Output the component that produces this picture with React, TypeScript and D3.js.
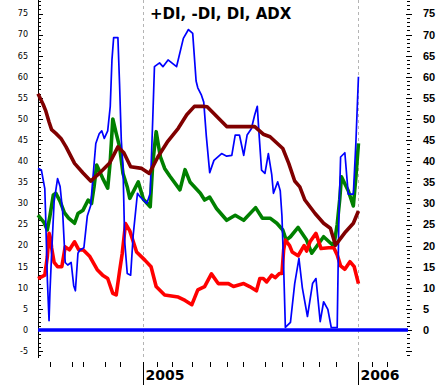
import React, { useEffect, useRef } from "react";
import * as d3 from "d3";

const WIDTH = 445;
const HEIGHT = 385;

// [trading day index, value]
const plusDI: [number, number][] = [
  [0, 27.2], [7, 25.5], [11, 23.7], [14, 27], [18, 32], [21, 32.4], [26, 30.5],
  [31, 27.8], [36, 26.5], [43, 25.3], [47, 27.6], [53, 28.4], [59, 30.8], [63, 30],
  [66, 34], [69, 39.1], [76, 36], [82, 33.6], [85, 40], [88, 50], [92, 46.6],
  [96, 43.4], [100, 37.1], [105, 33.9], [108, 31.2], [118, 35.1], [124, 31],
  [132, 29.2], [135, 39.5], [139, 47], [144, 41], [149, 38.3], [155, 36.5],
  [167, 33.2], [173, 38], [179, 35], [191, 32.4], [196, 30.8], [202, 31.5],
  [210, 28.8], [222, 26], [232, 27.2], [242, 26], [256, 29], [264, 26.5],
  [273, 26.5], [281, 25.3], [288, 23.7], [292, 21.3], [297, 22.1], [306, 24.3],
  [316, 21.3], [322, 18.2], [336, 22.1], [348, 19.9], [352, 25], [355, 31],
  [357, 36.3], [365, 33], [371, 29.4], [374, 36.3], [377, 44.2],
];

const minusDI: [number, number][] = [
  [0, 12.2], [8, 13], [11, 17.4], [13, 22.9], [15, 21.5], [16, 19.5], [19, 16],
  [23, 15], [28, 15], [32, 19.7], [37, 19], [43, 20.9], [48, 19], [53, 19],
  [61, 17.4], [70, 14.2], [76, 13], [82, 12.2], [88, 8.7], [92, 8.3], [96, 14],
  [99, 18], [103, 25.2], [108, 23.5], [116, 18.5], [126, 16.5], [133, 15],
  [139, 10.3], [149, 8.3], [165, 7.8], [173, 7], [181, 6], [188, 9.5],
  [196, 10.3], [204, 13.3], [212, 11], [224, 11], [230, 10.3], [242, 11],
  [249, 10.3], [257, 9.3], [261, 12.2], [265, 12.2], [269, 11.4], [275, 13],
  [279, 12.4], [284, 13.4], [287, 13.4], [289, 19], [291, 21.3], [296, 20],
  [299, 18.5], [306, 17.6], [313, 20], [316, 18.7], [320, 20.9], [327, 22.9],
  [333, 19.3], [342, 19.5], [348, 19.5], [352, 17.8], [356, 15.2], [361, 14.4],
  [367, 16.2], [372, 15], [377, 11],
];

const di: [number, number][] = [
  [0, 38.3], [4, 37.9], [8, 33.5], [9, 27], [11, 12], [13, 2.2], [14, 8.7],
  [16, 18], [19, 30.5], [23, 35.9], [26, 34], [29, 28], [32, 16], [35, 15.4],
  [39, 16], [42, 10.5], [44, 9.3], [47, 18.2], [49, 18.9], [54, 19.5], [58, 27],
  [62, 29.5], [65, 37], [68, 44.2], [72, 46.5], [75, 47.2], [78, 45.4],
  [82, 47.2], [85, 53], [87, 64], [89, 69.3], [94, 69.3], [96, 58], [98, 45],
  [100, 38.7], [102, 21], [105, 13.4], [109, 13], [112, 22.5], [117, 32.4],
  [120, 31.6], [124, 30.8], [128, 30], [132, 32.4], [135, 50], [137, 62.4],
  [143, 63.3], [147, 62.4], [153, 64], [163, 62.4], [171, 69.1], [177, 71.2],
  [182, 70.3], [186, 59], [188, 57.4], [192, 55.8], [195, 54], [198, 46],
  [202, 37.3], [207, 40.2], [216, 41.8], [222, 41.2], [228, 41.4], [232, 46.2],
  [237, 46.2], [242, 41.4], [246, 46.2], [251, 47.7], [255, 51], [258, 53],
  [260, 46.6], [263, 37.9], [267, 37.1], [271, 41.8], [275, 36.8], [277, 32.4],
  [282, 35.1], [285, 33], [287, 27], [289, 15], [291, 0.6], [297, 1.8],
  [302, 11], [307, 17], [311, 10], [317, 3.2], [323, 11], [327, 12.2], [332, 2],
  [336, 6.7], [341, 4.9], [345, 0.6], [352, 0.6], [354, 26.8], [356, 41],
  [361, 42], [365, 32.2], [371, 32.2], [374, 44.5], [377, 60],
];

const adx: [number, number][] = [
  [0, 56], [6, 53.5], [9, 52], [13, 49.3], [16, 47.5], [21, 46.6], [27, 45.4],
  [33, 43.4], [43, 39.5], [53, 37.2], [62, 35.3], [72, 37.1], [84, 39.5],
  [94, 43.4], [101, 42], [109, 38.7], [122, 38.3], [131, 37.1], [141, 41],
  [152, 44.5], [165, 47.8], [175, 51], [184, 53], [194, 53], [199, 52.9],
  [222, 48.2], [255, 48.2], [265, 46.4], [273, 45.8], [288, 43], [295, 39.5],
  [302, 35.3], [308, 33.9], [314, 30.8], [326, 27.6], [336, 25.3], [344, 24.1],
  [350, 20.1], [362, 23.3], [371, 25.3], [377, 28.2],
];

const monthTicks = [14, 40, 53, 79, 97, 140, 158, 181, 202, 222, 241, 267, 287, 312, 331, 351, 393, 410];
const yearTicks = [123, 376];
const yearLabels = ["2005", "2006"];
const yTickValues = [-5, 0, 5, 10, 15, 20, 25, 30, 35, 40, 45, 50, 55, 60, 65, 70, 75];

const series = [
  { data: plusDI, color: "#008000", width: 3.6 },
  { data: minusDI, color: "#ff0000", width: 3.6 },
  { data: di, color: "#0000ff", width: 1.7 },
  { data: adx, color: "#800000", width: 3.6 },
];

const App = () => {
  const svgRef = useRef<SVGSVGElement>(null);

  useEffect(() => {
    const svg = d3.select(svgRef.current);
    svg.selectAll("*").remove();

    const x = d3.scaleLinear().domain([0, 435]).range([38, 407.75]);
    const y = d3.scaleLinear().domain([-6.633, 78.2]).range([358, 0]);

    // year grid lines
    svg
      .selectAll(".grid")
      .data(yearTicks)
      .join("line")
      .attr("x1", (d) => Math.round(x(d)) + 0.5)
      .attr("x2", (d) => Math.round(x(d)) + 0.5)
      .attr("y1", 0)
      .attr("y2", 358)
      .attr("stroke", "#b4b4b4")
      .attr("stroke-dasharray", "3,3");

    // left axis
    const left = svg.append("g").attr("shape-rendering", "crispEdges");
    left
      .append("line")
      .attr("x1", 38.5)
      .attr("x2", 38.5)
      .attr("y1", 0)
      .attr("y2", 358)
      .attr("stroke", "#000");
    left
      .selectAll(".minor")
      .data(d3.range(-6, 79))
      .join("line")
      .attr("x1", 38.5)
      .attr("x2", (d) => (d % 5 === 0 ? 43 : 41))
      .attr("y1", (d) => Math.round(y(d)) + 0.5)
      .attr("y2", (d) => Math.round(y(d)) + 0.5)
      .attr("stroke", "#000");
    left
      .selectAll("text")
      .data(yTickValues)
      .join("text")
      .attr("x", 28)
      .attr("y", (d) => y(d))
      .attr("dy", "0.35em")
      .attr("text-anchor", "end")
      .attr("font-family", "DejaVu Sans, sans-serif")
      .attr("font-size", 8)
      .attr("fill", "#000")
      .text((d) => d);

    // right axis
    const right = svg.append("g").attr("shape-rendering", "crispEdges");
    right
      .selectAll("line")
      .data(d3.range(-6, 79))
      .join("line")
      .attr("x1", (d) => (d % 5 === 0 ? 406 : 407))
      .attr("x2", (d) => (d % 5 === 0 ? 412 : 410))
      .attr("y1", (d) => Math.round(y(d)) + 0.5)
      .attr("y2", (d) => Math.round(y(d)) + 0.5)
      .attr("stroke", "#000");
    right
      .selectAll("text")
      .data(yTickValues.filter((d) => d >= 0))
      .join("text")
      .attr("x", 423)
      .attr("y", (d) => y(d))
      .attr("dy", "0.36em")
      .attr("font-family", "Liberation Sans, Arial, sans-serif")
      .attr("font-weight", "bold")
      .attr("font-size", 11)
      .attr("fill", "#000")
      .text((d) => d);

    // bottom ticks
    const bottom = svg.append("g").attr("shape-rendering", "crispEdges");
    bottom
      .selectAll(".month")
      .data(monthTicks)
      .join("line")
      .attr("x1", (d) => Math.round(x(d)) + 0.5)
      .attr("x2", (d) => Math.round(x(d)) + 0.5)
      .attr("y1", 362)
      .attr("y2", 367)
      .attr("stroke", "#000");
    bottom
      .selectAll(".year")
      .data(yearTicks)
      .join("line")
      .attr("x1", (d) => Math.round(x(d)) + 0.5)
      .attr("x2", (d) => Math.round(x(d)) + 0.5)
      .attr("y1", 362)
      .attr("y2", 385)
      .attr("stroke", "#000");
    bottom
      .selectAll("text")
      .data(yearTicks)
      .join("text")
      .attr("x", (d) => Math.round(x(d)) + 2.5)
      .attr("y", 380)
      .attr("font-family", "DejaVu Sans, sans-serif")
      .attr("font-weight", "bold")
      .attr("font-size", 14)
      .attr("fill", "#000")
      .text((d, i) => yearLabels[i]);

    // zero line
    svg
      .append("line")
      .attr("x1", 38)
      .attr("x2", 408)
      .attr("y1", y(0))
      .attr("y2", y(0))
      .attr("stroke", "#0000ff")
      .attr("stroke-width", 3.5);

    const line = d3
      .line<[number, number]>()
      .x((d) => x(d[0]))
      .y((d) => y(d[1]));

    svg
      .selectAll(".series")
      .data(series)
      .join("path")
      .attr("d", (s) => line(s.data))
      .attr("fill", "none")
      .attr("stroke", (s) => s.color)
      .attr("stroke-width", (s) => s.width)
      .attr("stroke-linejoin", "round");

    svg
      .append("text")
      .attr("x", 150)
      .attr("y", 19)
      .attr("font-family", "DejaVu Sans, sans-serif")
      .attr("font-weight", "bold")
      .attr("font-size", 15)
      .attr("fill", "#000")
      .text("+DI, -DI, DI, ADX");
  }, []);

  return (
    <svg
      ref={svgRef}
      width={WIDTH}
      height={HEIGHT}
      style={{ position: "absolute", left: 0, top: 0, background: "#fff" }}
    />
  );
};

export default App;
